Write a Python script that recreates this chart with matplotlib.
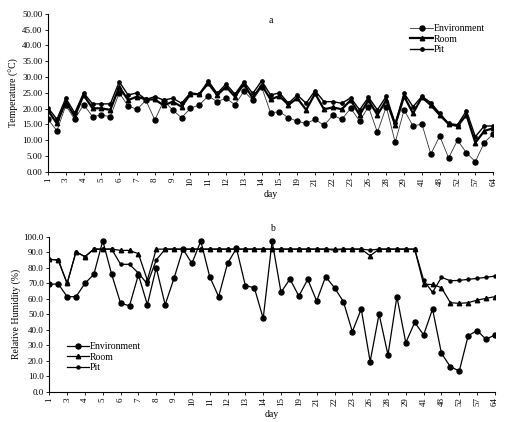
import numpy as np
import matplotlib
matplotlib.use('Agg')
import matplotlib.pyplot as plt
from matplotlib.ticker import FormatStrFormatter

plt.rcParams['font.family'] = ['Liberation Serif', 'DejaVu Serif']

day_labels = ['1', '3', '4', '5', '6', '7', '8', '9', '10', '11', '12', '13', '14',
              '15', '19', '21', '22', '23', '26', '28', '29', '41', '48', '52', '57', '64']

# panel a: temperature (51 readings)
temp_env = [16.6, 13.0, 21.0, 16.6, 21.3, 17.5, 17.9, 17.5, 25.0, 20.8,
            19.8, 22.6, 16.4, 22.5, 19.6, 17.1, 20.1, 21.2, 24.0, 22.2,
            23.3, 21.2, 25.5, 22.7, 26.8, 18.7, 19.0, 17.1, 16.0, 15.3,
            16.6, 14.7, 17.9, 16.6, 20.1, 16.1, 20.6, 12.5, 20.6, 9.3,
            19.6, 14.5, 15.1, 5.6, 11.3, 4.4, 10.0, 6.0, 3.2, 9.2, 12.0]
temp_room = [19.4, 15.3, 22.2, 17.5, 24.3, 20.1, 20.1, 19.6, 26.9, 22.7,
             23.8, 22.9, 22.9, 21.0, 22.2, 20.6, 24.6, 24.6, 28.0, 24.3,
             26.9, 23.8, 27.8, 23.3, 27.5, 22.9, 24.0, 21.2, 23.3, 19.6,
             24.8, 19.8, 20.4, 19.8, 22.7, 18.0, 22.7, 18.0, 22.7, 14.8,
             23.9, 18.5, 23.6, 21.1, 18.0, 15.1, 14.5, 18.0, 9.2, 12.9, 13.8]
temp_pit = [20.3, 16.6, 23.3, 18.6, 25.0, 21.5, 21.5, 21.5, 28.5, 24.3,
            25.0, 22.9, 23.8, 22.7, 23.3, 21.7, 25.0, 24.6, 28.8, 24.8,
            27.8, 24.6, 28.5, 24.8, 28.8, 24.3, 25.0, 21.7, 24.3, 21.7,
            25.7, 22.2, 22.2, 21.7, 23.4, 19.6, 23.6, 19.6, 23.9, 15.3,
            24.9, 20.6, 23.9, 21.9, 18.5, 15.3, 14.9, 19.3, 11.1, 14.5, 14.5]

# panel b: relative humidity
rh_env = [69.2, 69.6, 61.3, 61.3, 69.9, 75.7, 97.4, 75.7, 57.1, 55.4,
          75.5, 56.1, 80.0, 56.1, 73.3, 92.0, 82.8, 97.2, 74.2, 61.3,
          82.8, 92.5, 68.4, 67.1, 47.3, 97.2, 64.1, 72.7, 61.7, 72.5,
          58.5, 74.2, 67.1, 58.1, 38.7, 53.3, 19.4, 50.1, 23.7, 61.3,
          31.6, 44.7, 36.6, 53.3, 24.7, 16.1, 13.3, 36.1, 39.4, 33.8, 36.6]
rh_room = [85.4, 85.0, 69.9, 90.3, 87.1, 92.0, 92.0, 92.0, 91.2, 91.2,
           89.0, 72.0, 92.0, 92.0, 92.0, 92.0, 92.0, 92.0, 92.0, 92.0,
           92.0, 92.0, 92.0, 92.0, 92.0, 92.0, 92.0, 92.0, 92.0, 92.0,
           92.0, 92.0, 92.0, 92.0, 92.0, 92.0, 87.7, 92.0, 92.0, 92.0,
           92.0, 92.0, 69.2, 69.2, 67.1, 57.4, 57.0, 57.4, 59.1, 60.2, 61.3]
rh_pit = [85.4, 85.0, 69.9, 90.3, 87.1, 92.0, 92.0, 92.0, 82.2, 82.2,
          76.5, 69.5, 85.0, 92.0, 92.0, 92.0, 92.0, 92.0, 92.0, 92.0,
          92.0, 92.0, 92.0, 92.0, 92.0, 92.0, 92.0, 92.0, 92.0, 92.0,
          92.0, 92.0, 91.3, 92.0, 92.0, 92.0, 91.4, 92.0, 92.0, 92.0,
          92.0, 92.0, 72.0, 64.1, 73.8, 71.6, 71.8, 72.5, 73.1, 73.8, 74.6]

x = np.arange(len(temp_env))
fs = 6.5

fig = plt.figure(figsize=(5.14, 4.22), dpi=100)
ax1 = fig.add_axes([0.0934, 0.593, 0.866, 0.374])
ax2 = fig.add_axes([0.0959, 0.072, 0.867, 0.367])


def style_axis(ax):
    ax.spines['top'].set_visible(False)
    ax.spines['right'].set_visible(False)
    ax.spines['left'].set_linewidth(0.8)
    ax.spines['bottom'].set_linewidth(0.8)
    ax.set_xlim(0, len(x) - 1)
    ax.set_xticks(x[::2])
    ax.set_xticklabels(day_labels, rotation=90, fontsize=fs)
    ax.tick_params(axis='both', length=2.5, width=0.6, labelsize=fs, pad=1.5)
    ax.set_xlabel('day', fontsize=fs + 0.5, labelpad=3)


ax1.plot(x, temp_env, color='#333333', lw=0.6, marker='o', ms=3.6, mfc='black', mec='black', label='Environment')
ax1.plot(x, temp_room, color='black', lw=1.6, marker='^', ms=3.2, label='Room')
ax1.plot(x, temp_pit, color='black', lw=1.0, marker='o', ms=2.4, label='Pit')
style_axis(ax1)
ax1.set_ylim(0, 50)
ax1.set_yticks(np.arange(0, 50.1, 5))
ax1.yaxis.set_major_formatter(FormatStrFormatter('%.2f'))
ax1.set_ylabel('Temperature (°C)', fontsize=fs + 0.5, labelpad=2)
ax1.text(0.5, 0.94, 'a', transform=ax1.transAxes, fontsize=fs + 0.5, ha='center')
ax1.legend(loc='upper right', bbox_to_anchor=(0.99, 0.96), frameon=False, fontsize=fs + 0.5,
           handlelength=2.3, handletextpad=0.1, labelspacing=0.15, borderaxespad=0)

ax2.plot(x, rh_env, color='black', lw=0.9, marker='o', ms=3.6, label='Environment')
ax2.plot(x, rh_room, color='black', lw=0.9, marker='^', ms=3.2, label='Room')
ax2.plot(x, rh_pit, color='black', lw=0.9, marker='o', ms=2.2, label='Pit')
style_axis(ax2)
ax2.set_ylim(0, 100)
ax2.set_yticks(np.arange(0, 100.1, 10))
ax2.yaxis.set_major_formatter(FormatStrFormatter('%.1f'))
ax2.set_ylabel('Relative Humidity (%)', fontsize=fs + 0.5, labelpad=2)
ax2.text(0.5, 1.04, 'b', transform=ax2.transAxes, fontsize=fs + 0.5, ha='center')
ax2.legend(loc='lower left', bbox_to_anchor=(0.03, 0.1), frameon=False, fontsize=fs + 0.5,
           handlelength=2.3, handletextpad=0.1, labelspacing=0.15, borderaxespad=0)

fig.savefig('out.png', dpi=100)
